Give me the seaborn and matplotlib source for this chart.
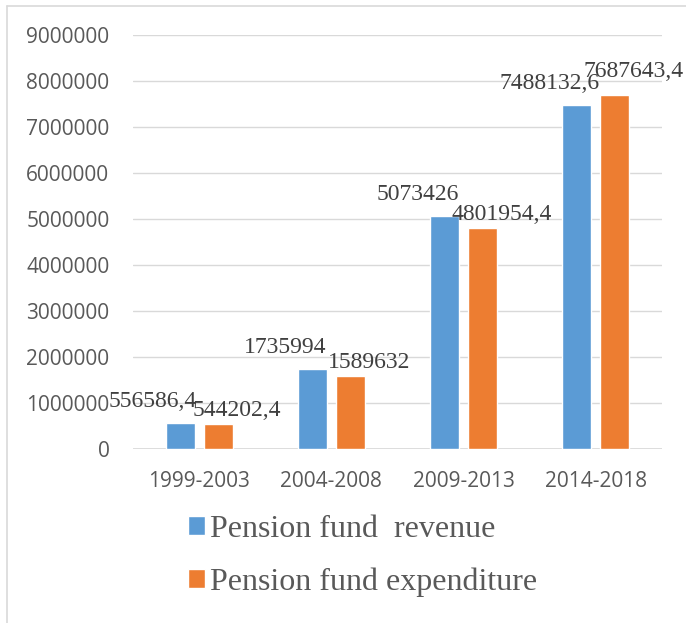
import seaborn as sns
import matplotlib.pyplot as plt
import pandas as pd
from matplotlib.lines import Line2D

# periods and the two series
periods = ['1999-2003', '2004-2008', '2009-2013', '2014-2018']
revenue = [556586.4, 1735994, 5073426, 7488132.6]
expenditure = [544202.4, 1589632, 4801954.4, 7687643.4]
series_names = ['Pension fund  revenue', 'Pension fund expenditure']
yticks = [0, 1000000, 2000000, 3000000, 4000000, 5000000, 6000000, 7000000, 8000000, 9000000]

df = pd.DataFrame({
    'period': periods * 2,
    'value': revenue + expenditure,
    'series': [series_names[0]] * 4 + [series_names[1]] * 4,
})

sns.set_style('white')
plt.rcParams['font.family'] = ['Open Sans', 'DejaVu Sans']

fig = plt.figure(figsize=(6.86, 6.23), dpi=100)
ax = fig.add_axes([0.1939, 0.2793, 0.965 - 0.1939, 0.9438 - 0.2793])

colors = ['#5B9BD5', '#ED7D31']
sns.barplot(data=df, x='period', y='value', hue='series', order=periods,
            hue_order=series_names, palette=colors, saturation=1,
            width=0.575, gap=0.235, ax=ax, legend=True)

ax.set_ylim(0, 9000000)
ax.set_yticks(yticks)
ax.set_yticklabels([str(t) for t in yticks])
ax.set_xlabel('')
ax.set_ylabel('')
ax.grid(axis='y', color='#d9d9d9', linewidth=1)
ax.set_axisbelow(True)
for s in ['top', 'right', 'left', 'bottom']:
    ax.spines[s].set_visible(False)
ax.axhline(0, color='#d9d9d9', linewidth=1.2, zorder=0)
ax.tick_params(axis='y', length=0, pad=17, labelsize=15, labelcolor='#595959')
ax.tick_params(axis='x', length=0, pad=16, labelsize=15, labelcolor='#595959')

# data labels above the bars (Excel pushed them apart, hence the sideways shift)
shifts = [(-27, 16), (19, 8)]
for i, (cont, vals, (dx, dy)) in enumerate(zip(ax.containers, [revenue, expenditure], shifts)):
    for j, (bar, v) in enumerate(zip(cont, vals)):
        txt = f'{v:.1f}'.replace('.', ',') if v % 1 else f'{int(v)}'
        lift = 10 if (i == 1 and j == len(vals) - 1) else 0  # last orange label sits higher
        ax.annotate(txt, (bar.get_x() + bar.get_width() / 2, bar.get_height()),
                    xytext=(dx, dy + lift), textcoords='offset pixels',
                    ha='center', va='baseline', fontsize=17,
                    family='Liberation Serif', color='#404040',
                    annotation_clip=False)

handles, labels = ax.get_legend_handles_labels()
ax.get_legend().remove()
fig.legend(handles, labels, loc='upper left', bbox_to_anchor=(0.274, 0.174),
           frameon=False, prop={'family': 'Liberation Serif', 'size': 23},
           labelcolor='#595959', handlelength=0.53, handleheight=0.53,
           handletextpad=0.15, labelspacing=0.75, borderpad=0, borderaxespad=0)

# chart frame (left and top edges visible)
fig.add_artist(Line2D([0.0102, 0.0102], [0, 0.9904], transform=fig.transFigure,
                      color='#d9d9d9', linewidth=1.2))
fig.add_artist(Line2D([0.0102, 1], [0.9904, 0.9904], transform=fig.transFigure,
                      color='#d9d9d9', linewidth=1.2))

fig.savefig('out.png', dpi=100)
